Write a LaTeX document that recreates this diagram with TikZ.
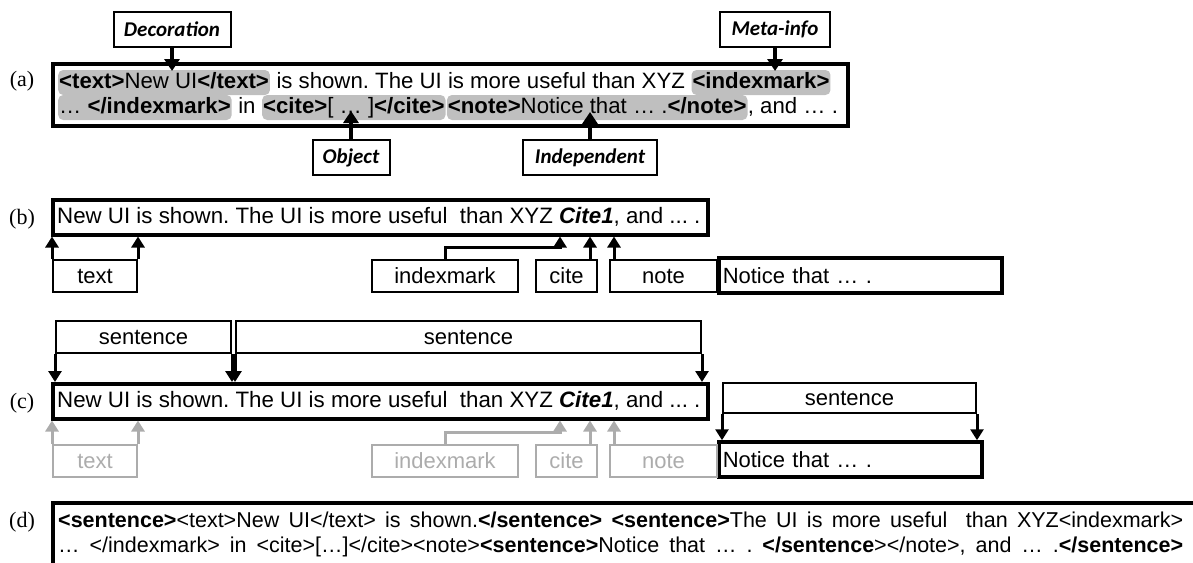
\documentclass[tikz,border=0pt]{standalone}
\usepackage{fontspec}
\setmainfont{Liberation Sans}
\newfontfamily\lblfont{Liberation Serif}
\newfontfamily\calloutfont{Carlito}
\usetikzlibrary{arrows.meta,positioning}
\frenchspacing

\begin{document}
\begin{tikzpicture}[x=1pt, y=-1pt,
    txt/.style={font=\fontsize{22}{26}\selectfont},
    ltxt/.style={font=\fontsize{22.3}{26}\selectfont, inner sep=0pt},
    atxt/.style={font=\fontsize{22.2}{26}\selectfont},
    dtxt/.style={font=\fontsize{21.5}{25}\selectfont, inner sep=0pt},
    lbl/.style={font=\lblfont\fontsize{22}{26}\selectfont},
    thickbox/.style={draw, line width=3.5pt},
    hl/.style={atxt, fill=gray!50, rounded corners=5pt, inner xsep=1pt, inner ysep=2pt, text height=16pt, text depth=5pt},
    chunk/.style={atxt, inner xsep=0pt, inner ysep=2pt, text height=16pt, text depth=5pt},
    tagname/.style={draw, line width=2pt, minimum height=35, inner sep=0pt, font=\calloutfont\bfseries\itshape\fontsize{21}{25}\selectfont},
    tagbox/.style={txt, draw, line width=2pt, minimum height=32, inner sep=0pt},
    sentbox/.style={txt, draw, line width=2pt, minimum height=32, inner sep=0pt},
    greyed/.style={draw=gray!65, text=gray!65},
    callarrow/.style={-{Triangle[width=15pt,length=12pt]}, line width=3.5pt},
    tagarrow/.style={-{Triangle[width=13pt,length=11pt]}, line width=3pt}]

    \useasboundingbox (0,0) rectangle (1193,562);

    % (a) tagged source with the four kinds of tags
    \node[lbl, anchor=base] (alab) at (22,86) {(a)};
    \node[thickbox, minimum width=795, minimum height=62, anchor=north west] (abox) at (51,62) {};
    \node[hl, anchor=base west] (a1) at (58,88) {\textbf{<text>}New UI\textbf{</text>}};
    \node[chunk, right=0pt of a1] (a2) {\ is shown. The UI is more useful than XYZ\ \null};
    \node[hl, right=0pt of a2] (a3) {\textbf{<indexmark>}};
    \node[hl, anchor=base west] (a4) at (58,113) {… \textbf{</indexmark>}};
    \node[chunk, right=0pt of a4] (a5) {\ in\ \null};
    \node[hl, right=0pt of a5] (a6) {\textbf{<cite>}[ … ]\textbf{</cite>}};
    \node[hl, right=1pt of a6] (a7) {\textbf{<note>}Notice that … .\textbf{</note>}};
    \node[chunk, right=0pt of a7] (a8) {, and … .};

    \node[tagname, minimum width=117] (deco) at (172,29.5) {Decoration};
    \node[tagname, minimum width=110] (meta) at (775,29.5) {Meta-info};
    \node[tagname, minimum width=77] (obj) at (351,157.5) {Object};
    \node[tagname, minimum width=134] (indep) at (590,157.5) {Independent};
    \coordinate (deco-tip) at (172,71);
    \coordinate (meta-tip) at (775,71);
    \coordinate (obj-tip) at (351,111);
    \coordinate (indep-tip) at (590,112);

    \draw[callarrow] (deco) -- (deco-tip);
    \draw[callarrow] (meta) -- (meta-tip);
    \draw[callarrow] (obj) -- (obj-tip);
    \draw[callarrow] (indep) -- (indep-tip);

    % (b) text with tags taken out
    \node[lbl, anchor=base] (blab) at (22,224) {(b)};
    \node[thickbox, minimum width=655, minimum height=35, anchor=north west] (bline) at (51,198) {};
    \node[ltxt, anchor=west] (btxt) at ([xshift=6pt]bline.west)
        {New UI is shown. The UI is more useful\ \ than XYZ \textbf{\textit{Cite1}}, and ... .};
    \node[tagbox, minimum width=84] (btext) at (95,276) {text};
    \node[tagbox, minimum width=146] (bidx) at (445,276) {indexmark};
    \node[tagbox, minimum width=61] (bcite) at (566.5,276) {cite};
    \node[tagbox, minimum width=107] (bnote) at (663.5,276) {note};
    \node[thickbox, txt, anchor=west, text width=275, inner xsep=4pt, minimum height=35, align=left] (bnotice) at (717,275.5) {Notice that … .};

    \draw[tagarrow] (btext.north west) -- (btext.north west |- bline.south);
    \draw[tagarrow] (btext.north east) -- (btext.north east |- bline.south);
    \draw[tagarrow] (bidx.north) -- ++(0,-12) -| (560,0 |- bline.south);
    \draw[tagarrow] ([xshift=-8pt]bcite.north east) -- ([xshift=-8pt]bcite.north east |- bline.south);
    \draw[tagarrow] ([xshift=5pt]bnote.north west) -- ([xshift=5pt]bnote.north west |- bline.south);

    % (c) sentences found on the plain text
    \node[lbl, anchor=base] (clab) at (22,408) {(c)};
    \node[sentbox, minimum width=175, anchor=north west] (s1) at (55,320) {sentence};
    \node[sentbox, minimum width=465, anchor=north west] (s2) at (235,320) {sentence};
    \node[sentbox, minimum width=253, minimum height=30, anchor=north west] (s3) at (722,382) {sentence};
    \node[thickbox, minimum width=655, minimum height=35, anchor=north west] (cline) at (51,382) {};
    \node[ltxt, anchor=west] (ctxt) at ([xshift=6pt]cline.west)
        {New UI is shown. The UI is more useful\ \ than XYZ \textbf{\textit{Cite1}}, and ... .};
    \node[thickbox, txt, anchor=west, text width=255, inner xsep=4pt, minimum height=35, align=left] (cnotice) at (717,459.5) {Notice that … .};
    \node[tagbox, greyed, minimum width=84] (ctext) at (95,461) {text};
    \node[tagbox, greyed, minimum width=146] (cidx) at (445,461) {indexmark};
    \node[tagbox, greyed, minimum width=61] (ccite) at (566.5,461) {cite};
    \node[tagbox, greyed, minimum width=107] (cnote) at (663.5,461) {note};

    \draw[tagarrow] (s1.south west) -- (s1.south west |- cline.north);
    \draw[tagarrow] (s1.south east) -- (s1.south east |- cline.north);
    \draw[tagarrow] (s2.south west) -- (s2.south west |- cline.north);
    \draw[tagarrow] (s2.south east) -- (s2.south east |- cline.north);
    \draw[tagarrow] (s3.south west) -- (s3.south west |- cnotice.north);
    \draw[tagarrow] (s3.south east) -- (s3.south east |- cnotice.north);

    \draw[tagarrow, gray!65] (ctext.north west) -- (ctext.north west |- cline.south);
    \draw[tagarrow, gray!65] (ctext.north east) -- (ctext.north east |- cline.south);
    \draw[tagarrow, gray!65] (cidx.north) -- ++(0,-12) -| (560,0 |- cline.south);
    \draw[tagarrow, gray!65] ([xshift=-8pt]ccite.north east) -- ([xshift=-8pt]ccite.north east |- cline.south);
    \draw[tagarrow, gray!65] ([xshift=5pt]cnote.north west) -- ([xshift=5pt]cnote.north west |- cline.south);

    % (d) tags put back with the sentences
    \node[lbl, anchor=base] (dlab) at (22,527) {(d)};
    \node[thickbox, minimum width=1200, minimum height=100, anchor=north west] (dbox) at (51,501) {};
    \node[dtxt, anchor=base west] (d1) at (58,527)
        {\makebox[1125pt][s]{\textbf{<sentence>}<text>New UI</text> is shown.\textbf{</sentence>} \textbf{<sentence>}The UI is more useful\ \ than XYZ<indexmark>}};
    \node[dtxt, anchor=base west] (d2) at (58,552)
        {\makebox[1125pt][s]{… </indexmark> in <cite>[…]</cite><note>\textbf{<sentence>}Notice that … . \textbf{</sentence}></note>, and … .\textbf{</sentence>}}};
\end{tikzpicture}
\end{document}
